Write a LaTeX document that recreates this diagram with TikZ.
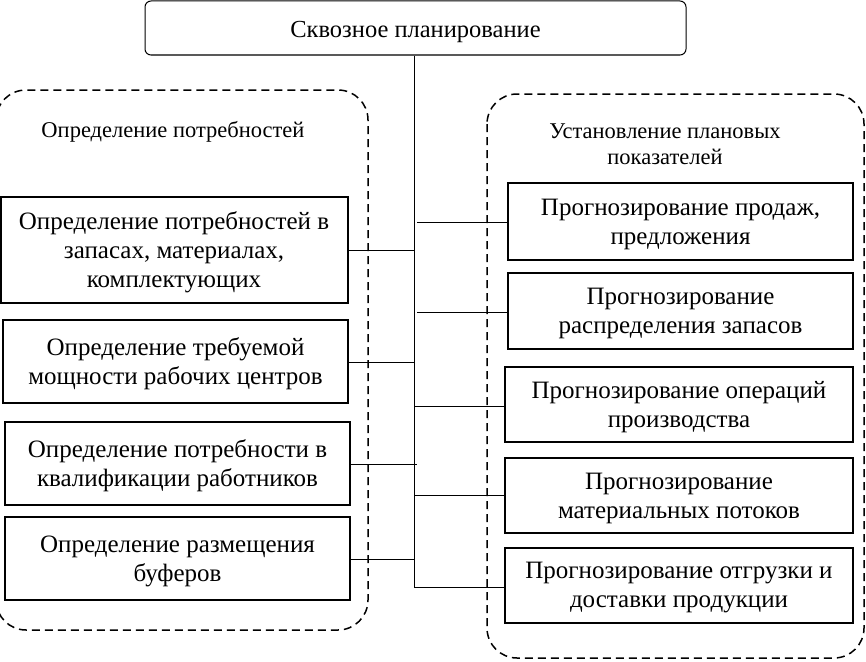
\documentclass[tikz,border=0pt]{standalone}
\usepackage{fontspec}
\setmainfont{Liberation Serif}
\begin{document}
\begin{tikzpicture}[x=1pt,y=-1pt,
  boxtext/.style={font=\fontsize{25}{29}\selectfont, align=center, yshift=-2.5pt},
  inbox/.style={draw, line width=2pt, inner sep=0pt},
  grp/.style={draw, line width=1.5pt, dash pattern=on 8pt off 5pt, rounded corners=30pt},
  lbl/.style={font=\fontsize{22.5}{26}\selectfont, align=center},
  conn/.style={line width=1pt}]
\useasboundingbox (0,0) rectangle (866,661);
% group frames
\draw[grp] (-4,90) rectangle (368,630);
\draw[grp] (487,94) rectangle (864,658);
\node[lbl] (lblL) at (173,132) {Определение потребностей};
\node[lbl] (lblR) at (665,144) {Установление плановых\\показателей};
% top box
\node[draw, line width=1pt, rounded corners=6pt, minimum width=541pt, minimum height=54pt] (top) at (415.5,28) {};
\node[font=\fontsize{24.5}{29}\selectfont, yshift=-4pt] (toptxt) at (top) {Сквозное планирование};
% left boxes
\node[inbox, minimum width=347pt, minimum height=106pt] (L1) at (174,250) {};
\node[boxtext] at (L1) {Определение потребностей в\\запасах, материалах,\\комплектующих};
\node[inbox, minimum width=345pt, minimum height=83pt] (L2) at (175.5,361.5) {};
\node[boxtext] at (L2) {Определение требуемой\\мощности рабочих центров};
\node[inbox, minimum width=345pt, minimum height=83pt] (L3) at (177.5,463.5) {};
\node[boxtext] at (L3) {Определение потребности в\\квалификации работников};
\node[inbox, minimum width=345pt, minimum height=83pt] (L4) at (177.5,558.5) {};
\node[boxtext] at (L4) {Определение размещения\\буферов};
% right boxes
\node[inbox, minimum width=345pt, minimum height=77pt] (R1) at (680.5,221.5) {};
\node[boxtext] at (R1) {Прогнозирование продаж,\\предложения};
\node[inbox, minimum width=345pt, minimum height=76pt] (R2) at (680.5,311) {};
\node[boxtext] at (R2) {Прогнозирование\\распределения запасов};
\node[inbox, minimum width=348pt, minimum height=75pt] (R3) at (679,404.5) {};
\node[boxtext] at (R3) {Прогнозирование операций\\производства};
\node[inbox, minimum width=348pt, minimum height=75pt] (R4) at (679,495.5) {};
\node[boxtext] at (R4) {Прогнозирование\\материальных потоков};
\node[inbox, minimum width=348pt, minimum height=75pt] (R5) at (679,585.5) {};
\node[boxtext] at (R5) {Прогнозирование отгрузки и\\доставки продукции};
% trunk
\coordinate (tend) at (414,587);
\draw[conn] (top.south -| tend) -- (tend);
\coordinate (a1) at (417,222);
\coordinate (a2) at (417,312);
\coordinate (a3) at (414,406);
\coordinate (a4) at (414,495);
\coordinate (b1) at (414,250);
\coordinate (b2) at (414,362);
\coordinate (b3) at (417,464);
\coordinate (b4) at (414,559);
\draw[conn] (a1) -- (a1 -| R1.west);
\draw[conn] (a2) -- (a2 -| R2.west);
\draw[conn] (a3) -- (a3 -| R3.west);
\draw[conn] (a4) -- (a4 -| R4.west);
\draw[conn] (tend) -- (tend -| R5.west);
\draw[conn] (b1 -| L1.east) -- (b1);
\draw[conn] (b2 -| L2.east) -- (b2);
\draw[conn] (b3 -| L3.east) -- (b3);
\draw[conn] (b4 -| L4.east) -- (b4);
\end{tikzpicture}
\end{document}
